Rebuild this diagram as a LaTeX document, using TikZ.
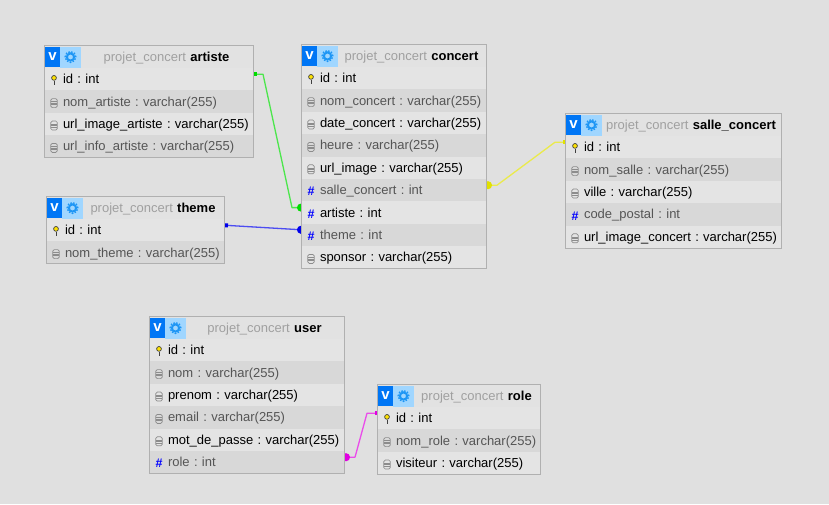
\documentclass[tikz,border=0pt]{standalone}
\usepackage{fontspec}
\setmainfont{Liberation Sans}
\usepackage{xcolor}
\usepackage{tikz}
\usetikzlibrary{arrows.meta,positioning,fit,backgrounds}
\frenchspacing
\definecolor{pagebg}{RGB}{224,224,224}
\definecolor{tabedge}{RGB}{176,176,176}
\definecolor{rowlight}{RGB}{228,228,228}
\definecolor{rowdark}{RGB}{216,216,216}
\definecolor{inkdim}{RGB}{85,85,85}
\definecolor{inkhdr}{RGB}{160,160,160}
\definecolor{vblue}{RGB}{0,118,245}
\definecolor{gearbg}{RGB}{160,214,255}
\definecolor{gearink}{RGB}{30,150,245}
\definecolor{linkgreen}{RGB}{0,220,0}
\definecolor{linkblue}{RGB}{0,0,235}
\definecolor{linkyellow}{RGB}{225,225,0}
\definecolor{linkmagenta}{RGB}{225,0,225}
\tikzset{
  cellbase/.style={
    inner ysep=0pt, inner xsep=1pt, outer sep=0pt,
    font=\fontsize{13}{15}\selectfont, text height=10.5pt, text depth=1.5pt
  },
  colhdr/.style={
    cellbase, text width=#1pt-2pt, align=center, minimum height=23pt,
    fill=rowlight!50!pagebg, text=inkhdr,
    execute at begin node={\hspace*{36pt}},
    label={[vmark, anchor=center, xshift=8.5pt, yshift=-0.5pt]180:v},
    label={[gearmark, anchor=center, xshift=26.5pt, yshift=-0.5pt]180:}
  },
  oddrow/.style={
    cellbase, text width=#1pt-2pt, minimum height=22.4pt, fill=rowlight,
    execute at begin node={\hspace*{18pt}}
  },
  evenrow/.style={oddrow=#1, fill=rowdark, text=inkdim},
  vmark/.style={
    fill=vblue, text=white, minimum width=15pt, minimum height=20pt, inner sep=0pt,
    font=\fontsize{15}{16}\selectfont\bfseries
  },
  gearmark/.style={
    fill=gearbg, minimum width=21pt, minimum height=21pt, inner sep=0pt,
    path picture={
      \draw[gearink, line width=2pt] (path picture bounding box.center) circle (3.6pt);
      \draw[gearink, line width=1.4pt, dash pattern=on 1.6pt off 1.4pt]
        (path picture bounding box.center) circle (5.4pt);
    }
  },
  keymark/.style={
    minimum width=7pt, minimum height=11pt, inner sep=0pt,
    path picture={
      \draw[black!75, line width=1pt] (path picture bounding box.center) ++(0,-1.5pt) -- ++(0,-3.5pt);
      \draw[black!75, fill=yellow!85!orange, line width=0.7pt]
        (path picture bounding box.center) ++(0,1.8pt) circle (2.4pt);
    }
  },
  docmark/.style={
    draw=black!45, line width=0.7pt, rounded corners=1.5pt,
    minimum width=6.5pt, minimum height=9pt, inner sep=0pt,
    path picture={
      \draw[black!45, line width=0.6pt]
        ([yshift=1.5pt]path picture bounding box.west) -- ([yshift=1.5pt]path picture bounding box.east)
        (path picture bounding box.west) -- (path picture bounding box.east)
        ([yshift=-1.5pt]path picture bounding box.west) -- ([yshift=-1.5pt]path picture bounding box.east);
    }
  },
  fkmark/.style={
    text=blue, inner sep=0pt, font=\fontsize{12.5}{13}\selectfont\bfseries
  },
  keyic/.style={label={[keymark, anchor=center, xshift=10pt, yshift=-0.5pt]180:}},
  docic/.style={label={[docmark, anchor=center, xshift=10pt, yshift=-1.5pt]180:}},
  fkic/.style={label={[fkmark, anchor=center, xshift=10pt, yshift=-1.5pt]180:\#}},
  tabframe/.style={draw=tabedge, line width=1pt, inner sep=0pt},
  fklink/.style={
    draw=#1!70!white, line width=1.3pt, line join=round,
    {Square[length=4pt,width=4pt,color=#1]}-{Circle[length=8pt,width=8pt,color=#1]}
  }
}
\begin{document}
\begin{tikzpicture}[x=1pt, y=-1pt, node distance=0pt]
  \useasboundingbox (0,0) rectangle (829,504);
  % artiste
  \node[colhdr=209, anchor=north west] (art_hdr) at (44,45) {projet\_concert \textcolor{black}{\bfseries artiste}};
  \node[oddrow=209, keyic, below=of art_hdr] (art_id) {id : int};
  \node[evenrow=209, docic, below=of art_id] (art_nom) {nom\_artiste : varchar(255)};
  \node[oddrow=209, docic, below=of art_nom] (art_img) {url\_image\_artiste : varchar(255)};
  \node[evenrow=209, docic, below=of art_img] (art_info) {url\_info\_artiste : varchar(255)};
  \node[tabframe, fit=(art_hdr)(art_info)] (art_box) {};
  % concert
  \node[colhdr=185, anchor=north west] (con_hdr) at (301,44) {projet\_concert \textcolor{black}{\bfseries concert}};
  \node[oddrow=185, keyic, below=of con_hdr] (con_id) {id : int};
  \node[evenrow=185, docic, below=of con_id] (con_nom) {nom\_concert : varchar(255)};
  \node[oddrow=185, docic, below=of con_nom] (con_date) {date\_concert : varchar(255)};
  \node[evenrow=185, docic, below=of con_date] (con_heure) {heure : varchar(255)};
  \node[oddrow=185, docic, below=of con_heure] (con_img) {url\_image : varchar(255)};
  \node[evenrow=185, fkic, below=of con_img] (con_salle) {salle\_concert : int};
  \node[oddrow=185, fkic, below=of con_salle] (con_artiste) {artiste : int};
  \node[evenrow=185, fkic, below=of con_artiste] (con_theme) {theme : int};
  \node[oddrow=185, docic, below=of con_theme] (con_sponsor) {sponsor : varchar(255)};
  \node[tabframe, fit=(con_hdr)(con_sponsor)] (con_box) {};
  % salle_concert
  \node[colhdr=216, anchor=north west] (sal_hdr) at (565,113) {projet\_concert \textcolor{black}{\bfseries salle\_concert}};
  \node[oddrow=216, keyic, below=of sal_hdr] (sal_id) {id : int};
  \node[evenrow=216, docic, below=of sal_id] (sal_nom) {nom\_salle : varchar(255)};
  \node[oddrow=216, docic, below=of sal_nom] (sal_ville) {ville : varchar(255)};
  \node[evenrow=216, fkic, below=of sal_ville] (sal_code) {code\_postal : int};
  \node[oddrow=216, docic, below=of sal_code] (sal_img) {url\_image\_concert : varchar(255)};
  \node[tabframe, fit=(sal_hdr)(sal_img)] (sal_box) {};
  % theme
  \node[colhdr=178, anchor=north west] (the_hdr) at (46,196) {projet\_concert \textcolor{black}{\bfseries theme}};
  \node[oddrow=178, keyic, below=of the_hdr] (the_id) {id : int};
  \node[evenrow=178, docic, below=of the_id] (the_nom) {nom\_theme : varchar(255)};
  \node[tabframe, fit=(the_hdr)(the_nom)] (the_box) {};
  % user
  \node[colhdr=195, anchor=north west] (usr_hdr) at (149,316) {projet\_concert \textcolor{black}{\bfseries user}};
  \node[oddrow=195, keyic, below=of usr_hdr] (usr_id) {id : int};
  \node[evenrow=195, docic, below=of usr_id] (usr_nom) {nom : varchar(255)};
  \node[oddrow=195, docic, below=of usr_nom] (usr_prenom) {prenom : varchar(255)};
  \node[evenrow=195, docic, below=of usr_prenom] (usr_email) {email : varchar(255)};
  \node[oddrow=195, docic, below=of usr_email] (usr_mdp) {mot\_de\_passe : varchar(255)};
  \node[evenrow=195, fkic, below=of usr_mdp] (usr_role) {role : int};
  \node[tabframe, fit=(usr_hdr)(usr_role)] (usr_box) {};
  % role
  \node[colhdr=163, anchor=north west] (rol_hdr) at (377,384) {projet\_concert \textcolor{black}{\bfseries role}};
  \node[oddrow=163, keyic, below=of rol_hdr] (rol_id) {id : int};
  \node[evenrow=163, docic, below=of rol_id] (rol_nom) {nom\_role : varchar(255)};
  \node[oddrow=163, docic, below=of rol_nom] (rol_visiteur) {visiteur : varchar(255)};
  \node[tabframe, fit=(rol_hdr)(rol_visiteur)] (rol_box) {};
  % links sit behind the tables
  \begin{scope}[on background layer]
    \fill[pagebg] (0,0) rectangle (829,504);
    \draw[fklink=linkgreen] ([yshift=5pt]art_id.east) -- ++(10,0)
      -- ([shift={(-9pt,5pt)}]con_artiste.west) -- ([shift={(4pt,5pt)}]con_artiste.west);
    \draw[fklink=linkblue] ([yshift=5pt]the_id.east) -- ([shift={(4pt,5pt)}]con_theme.west);
    \draw[fklink=linkyellow] ([shift={(2pt,5pt)}]sal_id.west) -- ++(-12,0)
      -- ([shift={(11pt,5pt)}]con_salle.east) -- ([shift={(-2pt,5pt)}]con_salle.east);
    \draw[fklink=linkmagenta] ([shift={(2pt,5pt)}]rol_id.west) -- ++(-12,0)
      -- ([shift={(11pt,5pt)}]usr_role.east) -- ([shift={(-2pt,5pt)}]usr_role.east);
  \end{scope}
\end{tikzpicture}
\end{document}
